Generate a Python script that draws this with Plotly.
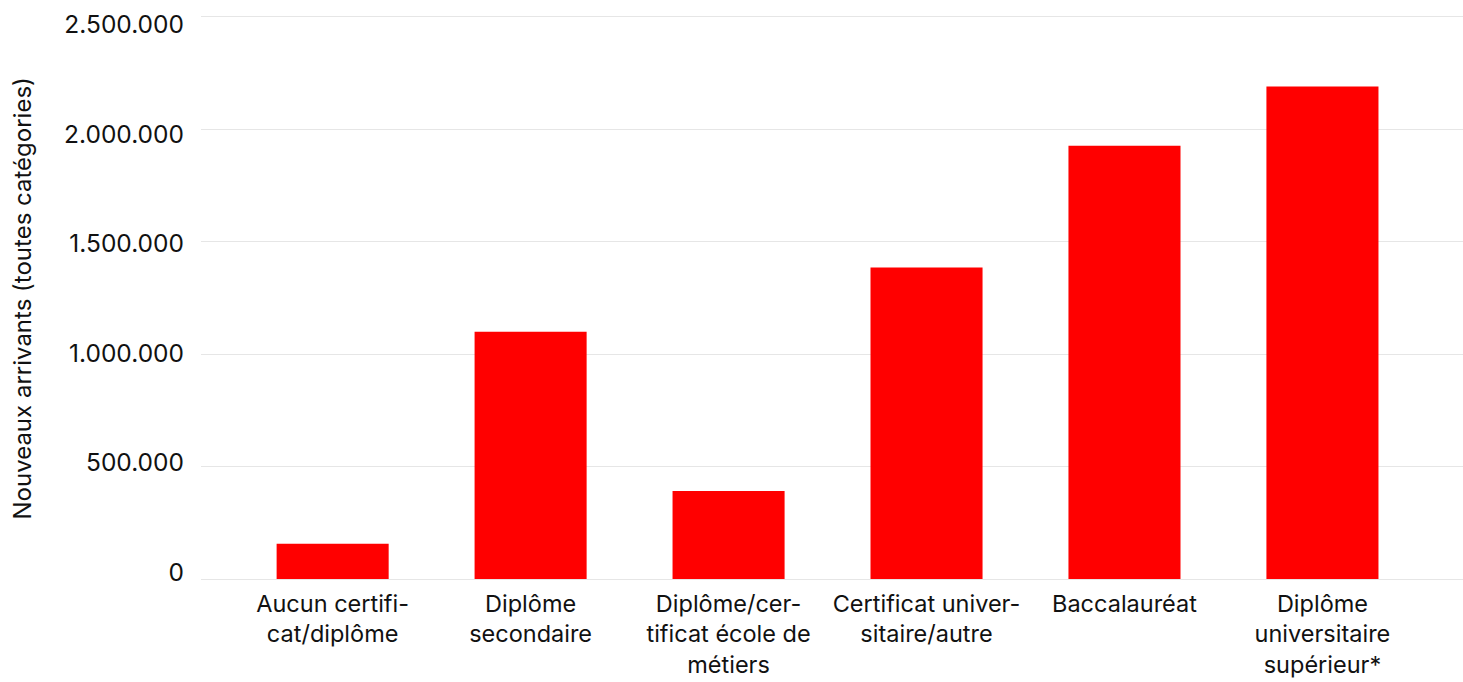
import plotly.graph_objects as go

# Newcomers by highest level of education
categories = [
    "Aucun certifi-<br>cat/diplôme",
    "Diplôme<br>secondaire",
    "Diplôme/cer-<br>tificat école de<br>métiers",
    "Certificat univer-<br>sitaire/autre",
    "Baccalauréat",
    "Diplôme<br>universitaire<br>supérieur*",
]
newcomers = [157000, 1100000, 391000, 1385000, 1927000, 2190000]

y_ticks = [0, 500000, 1000000, 1500000, 2000000, 2500000]

FONT = "Inter"
TXT = "#111111"
W, H = 1463, 682
M_L, M_R, M_T, M_B = 201, 0, 14, 103
Y_TOP = 2513000  # a little headroom so the 2.500.000 gridline is kept

fig = go.Figure()
fig.add_trace(go.Bar(
    x=categories,
    y=newcomers,
    marker=dict(color="#ff0000", line=dict(width=0)),
    hoverinfo="x+y",
))
# invisible companion trace carrying the labelled value axis
fig.add_trace(go.Scatter(
    x=categories,
    y=newcomers,
    yaxis="y2",
    mode="markers",
    marker=dict(opacity=0),
    hoverinfo="skip",
))

fig.update_layout(
    width=W,
    height=H,
    margin=dict(l=M_L, r=M_R, t=M_T, b=M_B, pad=0),
    paper_bgcolor="white",
    plot_bgcolor="rgba(0,0,0,0)",
    separators=",.",
    bargap=0.434,
    showlegend=False,
    font=dict(family=FONT, size=22, color=TXT),
    xaxis=dict(
        type="category",
        range=[-0.665, 5.71],
        showgrid=False,
        showline=False,
        zeroline=False,
        ticks="",
        ticklabelstandoff=8,
        tickfont=dict(family=FONT, size=23.5, color=TXT),
    ),
    yaxis=dict(
        range=[0, Y_TOP],
        tickvals=y_ticks,
        showticklabels=False,
        showgrid=True,
        gridcolor="#e6e6e6",
        gridwidth=1.3,
        zeroline=True,
        zerolinecolor="#e6e6e6",
        zerolinewidth=1.3,
        showline=False,
        ticks="",
    ),
    yaxis2=dict(
        range=[0, 2500000],
        tickvals=y_ticks,
        tickformat=",d",
        domain=[0.0125, 0.981],
        anchor="free",
        position=0,
        side="left",
        showgrid=False,
        zeroline=False,
        showline=False,
        ticks="",
        ticklabelstandoff=17,
        tickfont=dict(family=FONT, size=24.5, color=TXT),
        title=dict(
            text="Nouveaux arrivants (toutes catégories)",
            font=dict(family=FONT, size=24, color=TXT),
            standoff=24,
        ),
    ),
)

fig.write_html("out.html")
